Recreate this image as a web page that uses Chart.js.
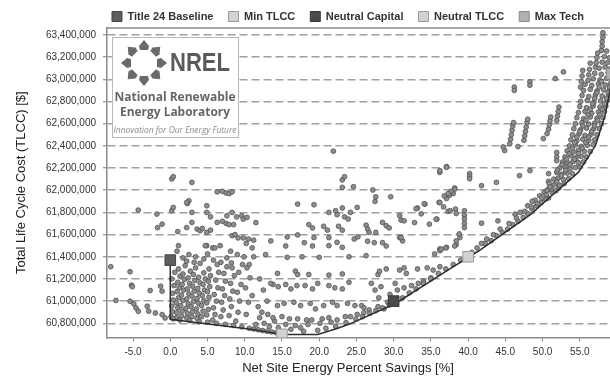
<!DOCTYPE html>
<html lang="en">
<head>
  <meta charset="UTF-8">
  <title>Total Life Cycle Cost vs Net Site Energy Savings</title>
  <script src="https://cdn.jsdelivr.net/npm/chart.js"></script>
  <style>
    html, body { margin: 0; padding: 0; background: #fff; overflow: hidden; }
    #marco { width: 610px; height: 382px; overflow: hidden; }
    canvas { display: block; }
  </style>
</head>
<body>
  <!-- the original chart is cropped on the right, so the canvas is wider than the window -->
  <div id="marco"><canvas id="grafico" width="700" height="382"></canvas></div>

  <script>
    // tick values
    const xTicks = [-5, 0, 5, 10, 15, 20, 25, 30, 35, 40, 45, 50, 55];
    const yTicks = [60800000, 61000000, 61200000, 61400000, 61600000, 61800000, 62000000,
                    62200000, 62400000, 62600000, 62800000, 63000000, 63200000, 63400000];

    // key designs: [savings %, TLCC in thousands of $]
    const baseline = [[0, 61370]];
    const minTlcc = [[15, 60700]];
    const neutralCapital = [[30, 61000]];
    const neutralTlcc = [[40, 61400]];
    const maxTech = [[59.3, 63050]];

    // lower bound (pareto front) line
    const frontier = [[0, 61370], [0, 60836], [10.8, 60746], [15.2, 60700], [19.8, 60700], [22.5, 60755],
      [24.3, 60800], [30.3, 60981], [37.7, 61298], [41.4, 61452], [48.5, 61787], [51.2, 61950],
      [54.8, 62161], [57.1, 62403], [58.4, 62675], [59.3, 62977], [60.2, 63470]];

    // simulated designs, read off the picture region by region
    const leftOfZero = [[-8.0, 61310], [-5.4, 61265], [-5.2, 61144], [-5.1, 61130], [-2.7, 61096], [-1.3, 61135],
      [-1.1, 61090], [-7.3, 61006], [-5.4, 60999], [-4.9, 60975], [-4.6, 60939], [-4.3, 60909], [-3.1, 60954],
      [-2.9, 60909], [-2.0, 60893], [-1.1, 60879], [-0.7, 60848], [-4.3, 61821], [-1.8, 61785], [-1.7, 61663],
      [-1.1, 61694]];

    const leftCluster = [[0.1, 60860], [0.3, 60905], [0.2, 60955], [0.4, 61010], [0.3, 61070], [0.5, 61140],
      [0.2, 61200], [0.6, 61260], [0.8, 60850], [0.9, 60895], [1.0, 60940], [0.8, 60985], [1.1, 61030],
      [0.9, 61085], [1.2, 61120], [1.0, 61170], [1.3, 61225], [1.1, 61290], [1.5, 60865], [1.6, 60910],
      [1.4, 60960], [1.7, 61005], [1.5, 61055], [1.8, 61100], [1.6, 61150], [1.9, 61195], [1.7, 61245],
      [2.0, 61320], [2.2, 60850], [2.3, 60890], [2.1, 60935], [2.4, 60975], [2.2, 61020], [2.5, 61065],
      [2.3, 61110], [2.6, 61160], [2.4, 61210], [2.7, 61270], [2.9, 60860], [3.0, 60905], [2.8, 60950],
      [3.1, 60995], [2.9, 61045], [3.2, 61090], [3.0, 61135], [3.3, 61185], [3.1, 61240], [3.4, 61300],
      [3.6, 60845], [3.7, 60885], [3.5, 60930], [3.8, 60980], [3.6, 61025], [3.9, 61070], [3.7, 61115],
      [4.0, 61165], [3.8, 61215], [4.2, 60860], [4.4, 60910], [4.2, 60960], [4.5, 61005], [4.3, 61050],
      [4.6, 61100], [4.4, 61150], [4.7, 61200], [4.5, 61255], [4.9, 60875], [5.1, 60925], [4.9, 60985],
      [5.2, 61035], [5.0, 61085], [5.3, 61130], [5.1, 61180], [5.4, 61230], [5.2, 61290]];

    const midCluster = [[5.7, 60830], [6.0, 60880], [5.8, 60940], [6.2, 61000], [5.9, 61060], [6.4, 61120],
      [6.1, 61190], [6.5, 61260], [6.3, 61330], [6.8, 60860], [7.1, 60920], [6.9, 60990], [7.3, 61050],
      [7.0, 61110], [7.4, 61180], [7.2, 61250], [7.6, 61310], [7.9, 60870], [8.2, 60950], [8.0, 61020],
      [8.4, 61090], [8.1, 61160], [8.6, 61230], [8.3, 61300], [8.8, 60820], [9.1, 60900], [9.3, 61000],
      [9.0, 61080], [9.5, 61150], [9.2, 61260], [9.7, 61330], [10.2, 60880], [10.5, 60990], [10.1, 61120],
      [10.7, 61210], [10.3, 61300], [11.0, 61050], [11.8, 60950], [12.3, 60900], [12.5, 61100], [13.0, 61000],
      [12.0, 61200], [13.8, 61150]];

    const lowerEdge = [[0.4, 60840], [1.3, 60830], [2.6, 60825], [3.9, 60815], [5.0, 60810], [6.2, 60800],
      [7.4, 60790], [8.5, 60780], [9.6, 60768], [10.6, 60755], [11.2, 60748], [11.8, 60742], [12.4, 60735],
      [13.0, 60728], [13.6, 60722], [14.2, 60716], [11.5, 60790], [12.6, 60800], [13.3, 60770], [14.5, 60760],
      [12.0, 60850], [13.1, 60880], [14.0, 60820]];

    const aboveCluster = [[1.7, 61390], [2.5, 61420], [3.4, 61400], [4.5, 61380], [5.0, 61425], [5.8, 61370],
      [6.8, 61350], [7.6, 61390], [8.2, 61345], [9.9, 61400], [10.6, 61330], [1.1, 61500], [0.9, 61450],
      [2.2, 61360], [4.9, 61500], [5.7, 61480], [6.7, 61500], [8.1, 61450], [9.0, 61420], [11.2, 61400],
      [12.8, 61420], [13.5, 61543], [11.0, 61480], [10.2, 61520], [3.2, 61350], [4.0, 61340]];

    const upperLeft = [[0.2, 62102], [0.4, 62122], [2.9, 62071], [6.3, 61985], [7.0, 61990], [7.5, 61975],
      [7.9, 61970], [8.3, 61985], [2.5, 61905], [2.3, 61880], [0.2, 61815], [2.9, 61800], [4.9, 61860],
      [4.9, 61800], [5.4, 61760], [7.6, 61770], [8.3, 61800], [8.9, 61760], [9.6, 61770], [9.8, 61740],
      [10.3, 61755], [6.3, 61710], [7.0, 61720], [7.5, 61700], [7.9, 61690], [8.5, 61690], [11.5, 61708],
      [1.0, 61627], [2.2, 61663], [2.9, 61710], [3.6, 61650], [4.0, 61635], [4.3, 61655], [4.9, 61620],
      [5.4, 61640], [8.3, 61590], [8.7, 61600], [9.1, 61570], [9.8, 61570], [10.5, 61560], [11.2, 61550],
      [4.7, 61500], [6.0, 61480], [0.4, 61845], [2.2, 61890]];

    const midScatter = [[21.9, 62352], [36.2, 62161], [37.1, 62213], [23.1, 62093], [23.4, 62122], [23.1, 62026],
      [24.6, 62032], [27.2, 62002], [27.6, 61941], [27.5, 61899], [29.6, 61941], [17.1, 61875], [19.3, 61869],
      [21.3, 61800], [22.2, 61815], [22.4, 61780], [23.1, 61840], [23.4, 61760], [23.9, 61740], [24.2, 61800],
      [25.1, 61845], [33.2, 61840], [34.2, 61875], [36.1, 61890], [37.1, 61925], [37.5, 61955], [38.0, 61970],
      [38.2, 62020], [37.3, 61810], [38.3, 61830], [38.4, 61790], [30.8, 61770], [31.0, 61730], [32.8, 61708],
      [34.8, 61694], [35.8, 61739], [18.6, 61690], [19.1, 61660], [20.6, 61675], [21.1, 61640], [22.6, 61675],
      [23.1, 61640], [26.3, 61685], [26.5, 61650], [26.7, 61620], [27.6, 61620], [28.5, 61710], [29.0, 61680],
      [29.4, 61660], [15.7, 61579], [15.5, 61497], [17.1, 61597], [18.0, 61527], [19.1, 61497], [19.3, 61573],
      [21.3, 61573], [21.3, 61500], [22.4, 61530], [23.1, 61485], [24.7, 61560], [25.2, 61580], [26.5, 61540],
      [27.4, 61527], [28.5, 61527], [29.0, 61497], [30.8, 61573], [31.2, 61543], [36.2, 61470], [37.1, 61485],
      [38.4, 61510], [38.9, 61573]];

    const midRows = [[15.7, 61395], [17.7, 61400], [20.0, 61395], [24.0, 61400], [26.3, 61410], [35.5, 61425],
      [36.2, 61455], [37.0, 61480], [14.4, 61250], [16.8, 61270], [17.1, 61240], [18.6, 61240], [21.3, 61235],
      [23.1, 61245], [27.9, 61240], [28.1, 61270], [29.0, 61290], [30.8, 61280], [31.4, 61300], [31.7, 61250],
      [33.2, 61290], [34.5, 61300], [35.3, 61280], [36.2, 61310], [13.5, 61160], [14.5, 61130], [15.5, 61150],
      [16.2, 61110], [17.0, 61140], [18.1, 61140], [19.1, 61110], [19.8, 61160], [21.3, 61140], [22.1, 61120],
      [23.1, 61110], [24.0, 61170], [27.0, 61160], [27.5, 61100], [28.3, 61130], [30.2, 61160], [30.5, 61100],
      [31.4, 61120], [32.4, 61140], [33.3, 61160], [34.0, 61180], [35.0, 61210], [14.4, 60960], [15.3, 60980],
      [16.6, 60990], [17.5, 60960], [18.8, 60980], [19.5, 60930], [20.6, 60960], [21.8, 60990], [22.4, 60960],
      [23.8, 60980], [24.8, 60960], [25.7, 60960], [26.0, 60940], [26.7, 60920], [27.9, 60950], [28.7, 60930],
      [29.2, 60990], [28.0, 61030], [29.5, 61060], [13.8, 60850], [15.0, 60860], [16.0, 60840], [17.1, 60840],
      [18.3, 60830], [19.0, 60830], [20.4, 60840], [21.3, 60850], [22.4, 60830], [23.5, 60860], [24.2, 60860],
      [25.1, 60880], [26.0, 60895], [14.8, 60728], [16.2, 60746], [17.9, 60728], [19.8, 60737], [20.9, 60755],
      [22.2, 60773], [23.6, 60805], [24.9, 60836], [25.8, 60860], [26.8, 60890], [27.6, 60915], [28.5, 60940],
      [29.4, 60965], [31.2, 61030], [32.1, 61075], [33.0, 61110], [34.0, 61160], [35.0, 61200], [36.0, 61250],
      [37.0, 61290], [38.0, 61330], [39.0, 61370], [40.5, 61440], [16.8, 60780], [18.5, 60790], [20.1, 60800],
      [21.6, 60810], [17.5, 60760], [15.5, 60790]];

    const rightScatter = [[37.1, 62207], [36.2, 62177], [40.2, 62150], [40.2, 62127], [40.2, 62104], [41.8, 62041],
      [43.8, 62071], [46.9, 62132], [48.3, 62177], [50.8, 62150], [50.8, 62080], [50.8, 62010], [50.8, 61930],
      [38.2, 62010], [37.7, 61990], [37.3, 61970], [36.8, 61950], [34.1, 61878], [33.0, 61833], [33.7, 61787],
      [36.2, 61890], [36.7, 61850], [37.6, 61815], [39.5, 61815], [39.5, 61775], [39.5, 61740], [39.5, 61700],
      [39.5, 61663], [41.8, 61703], [44.0, 61724], [46.3, 61784], [31.4, 61724], [31.0, 61573], [35.7, 61739],
      [38.8, 61606], [38.4, 61543], [36.4, 61468], [38.2, 61497], [44.9, 62358], [44.7, 62390], [46.7, 62394],
      [50.1, 62466], [51.9, 62340], [51.9, 62300], [51.9, 62267]];

    const stripes = [[45.6, 62420], [45.7, 62460], [45.8, 62500], [45.9, 62540], [46.0, 62580], [46.1, 62610],
      [47.5, 62450], [47.6, 62490], [47.7, 62530], [47.8, 62570], [47.9, 62610], [48.0, 62640],
      [50.6, 62510], [50.8, 62550], [50.9, 62590], [51.0, 62625], [51.1, 62660],
      [51.9, 62630], [52.0, 62670], [52.1, 62710], [52.2, 62750],
      [46.2, 62930], [46.2, 62900], [48.3, 62977], [48.3, 62947], [51.7, 63007], [52.8, 63067],
      [55.1, 62930], [55.2, 62980], [55.3, 63030], [55.4, 63080],
      [56.1, 62990], [56.2, 63040], [56.3, 63090], [56.4, 63146],
      [57.1, 63110], [57.2, 63150], [57.3, 63195], [57.4, 63237],
      [57.9, 63260], [58.0, 63300], [58.0, 63340], [58.1, 63380], [58.1, 63420]];

    const rightBandLow = [[41.2, 61480], [42.3, 61520], [43.1, 61545], [43.8, 61590], [44.6, 61620], [45.3, 61650],
      [46.0, 61690], [46.7, 61720], [47.4, 61755], [48.0, 61790], [48.6, 61830], [49.2, 61860], [49.8, 61890],
      [50.4, 61920], [47.0, 61800], [48.0, 61860], [49.0, 61910], [49.6, 61950], [50.2, 61980], [48.6, 61900],
      [49.9, 61930], [50.5, 61960], [51.3, 61980], [49.3, 61880], [48.5, 61850], [47.6, 61810], [46.5, 61750],
      [45.5, 61700], [44.3, 61650], [43.4, 61600], [42.5, 61560], [41.8, 61520]];

    const rightBand = [[50.6, 62000], [51.2, 62010], [51.8, 61995], [52.2, 62020],
      [50.9, 62060], [51.6, 62050], [52.3, 62045], [52.9, 62060],
      [51.5, 62100], [52.1, 62110], [52.8, 62095], [53.5, 62105],
      [51.9, 62160], [52.6, 62145], [53.3, 62155], [54.0, 62150],
      [52.3, 62200], [53.0, 62210], [53.7, 62195], [54.4, 62205], [55.0, 62210],
      [52.7, 62255], [53.4, 62245], [54.1, 62260], [54.8, 62250], [55.5, 62255],
      [53.0, 62300], [53.8, 62310], [54.5, 62295], [55.2, 62305], [55.9, 62300],
      [53.3, 62355], [54.1, 62345], [54.8, 62360], [55.6, 62350], [56.4, 62350],
      [53.6, 62400], [54.4, 62410], [55.2, 62395], [56.0, 62405], [56.8, 62410],
      [53.8, 62455], [54.6, 62445], [55.4, 62460], [56.2, 62450], [57.0, 62455],
      [54.0, 62500], [54.9, 62510], [55.7, 62495], [56.5, 62505], [57.3, 62500],
      [54.2, 62555], [55.1, 62545], [55.9, 62560], [56.8, 62550], [57.6, 62555],
      [54.4, 62600], [55.3, 62610], [56.2, 62595], [57.0, 62605], [57.9, 62600],
      [54.6, 62655], [55.5, 62645], [56.4, 62660], [57.3, 62650], [58.1, 62655],
      [54.8, 62700], [55.7, 62710], [56.6, 62695], [57.5, 62705], [58.3, 62710],
      [55.0, 62755], [55.9, 62745], [56.8, 62760], [57.7, 62750], [58.5, 62760],
      [55.1, 62800], [56.0, 62810], [56.9, 62795], [57.8, 62805], [58.7, 62810],
      [55.3, 62855], [56.2, 62845], [57.1, 62860], [58.0, 62850], [58.9, 62855],
      [55.5, 62900], [56.4, 62910], [57.3, 62895], [58.2, 62905], [59.0, 62905],
      [55.7, 62955], [56.6, 62945], [57.5, 62960], [58.4, 62950], [59.1, 62960],
      [56.8, 63005], [57.7, 62995], [58.6, 63010], [59.2, 63000],
      [57.0, 63055], [57.9, 63045], [58.8, 63060], [57.6, 63100], [58.4, 63110], [59.1, 63095],
      [58.0, 63155], [58.7, 63150], [58.3, 63205], [59.0, 63195], [58.6, 63255]];

    const rightBandFill = [[51.0, 62030], [51.9, 62075], [52.5, 62130], [53.1, 62180], [53.7, 62230],
      [54.3, 62280], [54.8, 62330], [55.3, 62380], [55.8, 62430], [56.2, 62480], [56.6, 62530], [57.0, 62580],
      [57.4, 62630], [57.7, 62680], [58.0, 62730], [58.3, 62780], [58.6, 62830], [58.8, 62880], [59.0, 62930],
      [52.0, 62180], [52.6, 62230], [53.2, 62280], [53.6, 62330], [54.0, 62380], [54.3, 62430], [54.6, 62480],
      [55.0, 62530], [55.4, 62580], [55.8, 62630], [56.1, 62680], [56.4, 62730], [56.7, 62780], [57.0, 62830],
      [57.3, 62880], [57.6, 62930], [57.9, 62980]];

    const designs = [].concat(leftOfZero, leftCluster, midCluster, lowerEdge, aboveCluster, upperLeft,
      midScatter, midRows, rightScatter, stripes, rightBandLow, rightBand, rightBandFill);

    // cost is stored in thousands of dollars
    const toXY = pts => pts.map(p => ({ x: p[0], y: p[1] * 1000 }));

    function keyPoint(label, pts, fill, edge) {
      return {
        label: label,
        data: toXY(pts),
        backgroundColor: fill,
        borderColor: edge,
        borderWidth: 1,
        pointStyle: 'rect',
        pointRadius: 7.5,
        pointHoverRadius: 7.5
      };
    }

    // line along the top of the plot area
    const lineaSuperior = {
      id: 'lineaSuperior',
      afterDraw(chart) {
        const { ctx, chartArea } = chart;
        ctx.save();
        ctx.strokeStyle = '#8a8a8a';
        ctx.lineWidth = 1.5;
        ctx.beginPath();
        ctx.moveTo(chartArea.left, chartArea.top);
        ctx.lineTo(chartArea.right, chartArea.top);
        ctx.stroke();
        ctx.restore();
      }
    };

    // NREL logo box in the upper left corner of the plot
    const logoNrel = {
      id: 'logoNrel',
      beforeDatasetsDraw(chart) {
        const ctx = chart.ctx;
        const x = 112, y = 37, w = 126, h = 100;
        ctx.save();
        ctx.fillStyle = '#fff';
        ctx.fillRect(x, y, w, h);
        ctx.strokeStyle = '#b8b8b8';
        ctx.lineWidth = 1;
        ctx.strokeRect(x + 0.5, y + 0.5, w, h);

        // ring of arrows
        const cx = 144, cy = 63;
        ctx.fillStyle = '#6a6a6a';
        for (let i = 0; i < 8; i++) {
          const a = i * Math.PI / 4 - Math.PI / 2;
          ctx.save();
          ctx.translate(cx + 16 * Math.cos(a), cy + 16 * Math.sin(a));
          ctx.rotate(a);
          ctx.beginPath();
          ctx.moveTo(7, 0);
          ctx.lineTo(1, -5);
          ctx.lineTo(-3, -4);
          ctx.lineTo(-3, 4);
          ctx.lineTo(1, 5);
          ctx.closePath();
          ctx.fill();
          ctx.restore();
        }

        ctx.fillStyle = '#5a5a5a';
        ctx.textBaseline = 'middle';
        ctx.textAlign = 'left';
        ctx.font = "bold 25px 'Liberation Sans', Arial, sans-serif";
        ctx.fillText('NREL', 170, 64, 60);

        ctx.fillStyle = '#666';
        ctx.textAlign = 'center';
        ctx.font = "bold 13px 'Open Sans', 'Liberation Sans', sans-serif";
        ctx.fillText('National Renewable', 175, 97, 121);
        ctx.fillText('Energy Laboratory', 175, 112, 110);
        ctx.fillStyle = '#8a8a8a';
        ctx.font = "italic 9px 'Open Sans', 'Liberation Sans', sans-serif";
        ctx.fillText('Innovation for Our Energy Future', 175, 130, 123);
        ctx.restore();
      }
    };

    Chart.defaults.font.family = "'Liberation Sans', Arial, sans-serif";
    Chart.defaults.color = '#222';

    const ctx = document.getElementById('grafico').getContext('2d');
    new Chart(ctx, {
      type: 'scatter',
      data: {
        datasets: [
          keyPoint('Title 24 Baseline', baseline, '#5e5e5e', '#454545'),
          keyPoint('Min TLCC', minTlcc, '#d2d2d2', '#9a9a9a'),
          keyPoint('Neutral Capital', neutralCapital, '#4a4a4a', '#383838'),
          keyPoint('Neutral TLCC', neutralTlcc, '#d2d2d2', '#9a9a9a'),
          keyPoint('Max Tech', maxTech, '#b0b0b0', '#8a8a8a'),
          {
            label: 'frontier',
            data: toXY(frontier),
            showLine: true,
            borderColor: '#2e2e2e',
            borderWidth: 1.5,
            pointRadius: 0,
            pointHoverRadius: 0,
            tension: 0
          },
          {
            label: 'designs',
            data: toXY(designs),
            backgroundColor: '#8e8e8e',
            borderColor: '#505050',
            borderWidth: 0.8,
            pointRadius: 2.4,
            pointHoverRadius: 2.4
          }
        ]
      },
      options: {
        responsive: false,
        animation: false,
        layout: { padding: { top: -4, right: 4, left: 0, bottom: 0 } },
        plugins: {
          legend: {
            position: 'top',
            maxHeight: 32,
            labels: {
              boxWidth: 10,
              boxHeight: 10,
              padding: 15,
              color: '#333',
              font: { size: 11, weight: 'bold' },
              filter: item => item.datasetIndex < 5
            }
          },
          title: {
            display: true,
            position: 'bottom',
            text: 'Net Site Energy Percent Savings [%]',
            color: '#222',
            font: { size: 13, weight: 'normal' },
            padding: { top: 0, bottom: 6 }
          },
          tooltip: { enabled: false }
        },
        scales: {
          x: {
            type: 'linear',
            min: -8.5,
            max: 70,
            afterBuildTicks: s => { s.ticks = xTicks.map(v => ({ value: v })); },
            afterFit: s => { s.height = 23; },
            grid: { drawOnChartArea: false, tickLength: 4, tickColor: '#888', tickWidth: 1 },
            border: { color: '#8a8a8a', width: 1.5 },
            ticks: {
              autoSkip: false,
              maxRotation: 0,
              padding: 5,
              color: '#333',
              font: { size: 10 },
              callback: v => v.toFixed(1)
            }
          },
          y: {
            min: 60673000,
            max: 63463000,
            afterBuildTicks: s => { s.ticks = yTicks.map(v => ({ value: v })); },
            afterFit: s => { s.width = 107; },
            grid: { color: '#a0a0a0', lineWidth: 1.5, tickLength: 4, tickColor: '#777', tickWidth: 1, tickBorderDash: [] },
            border: { color: '#8a8a8a', width: 1.5, dash: [8, 4] },
            ticks: {
              autoSkip: false,
              padding: 7,
              color: '#333',
              font: { size: 10 },
              callback: v => v.toLocaleString('en-US')
            },
            title: {
              display: true,
              text: 'Total Life Cycle Cost (TLCC) [$]',
              color: '#222',
              font: { size: 13 },
              padding: { top: 14, bottom: 0 }
            }
          }
        }
      },
      plugins: [logoNrel, lineaSuperior]
    });
  </script>
</body>
</html>
